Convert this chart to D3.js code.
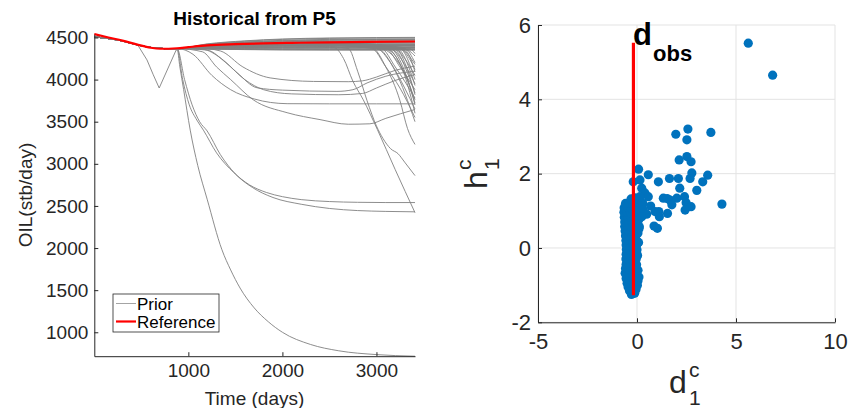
<!DOCTYPE html>
<html><head><meta charset="utf-8">
<script src="https://cdn.jsdelivr.net/npm/d3@7"></script>
<style>
body{margin:0;background:#fff}
svg{display:block}
text{font-family:"Liberation Sans",Arial,Helvetica,sans-serif}
</style>
</head><body>
<svg id="c" width="848" height="408"></svg>
<script>
// ---------------- LEFT PANEL DATA ----------------
const xTicksLeft = [1000, 2000, 3000];
const yTicksLeft = [1000, 1500, 2000, 2500, 3000, 3500, 4000, 4500];
const xDomainLeft = [0, 3410];
const yDomainLeft = [716, 4540];

// reference (red) curve
const refDays = [0, 150, 300, 450, 600, 700, 880, 1000, 1200, 1500, 1800, 2100, 2500, 2900, 3410];
const refOil  = [4540, 4500, 4462, 4418, 4378, 4366, 4372, 4385, 4405, 4420, 4430, 4436, 4442, 4447, 4452];

// shared early history of the prior runs [day, oil]
const sharedStart = [[0,4508],[150,4487],[300,4458],[450,4414],[600,4382],[750,4368],[880,4368]];

// prior runs that stay in the upper band (points after day 880)
const bandTails = [
  [[1200,4362],[1600,4356],[2000,4352],[2500,4350],[3000,4350],[3410,4350]],
  [[1200,4365],[1600,4361],[2000,4359],[2500,4358],[3000,4358],[3410,4358]],
  [[1200,4367],[1600,4366],[2000,4365],[2500,4365],[3000,4365],[3410,4365]],
  [[1200,4370],[1600,4371],[2000,4372],[2500,4372],[3000,4372],[3410,4372]],
  [[1200,4373],[1600,4376],[2000,4378],[2500,4379],[3000,4380],[3410,4380]],
  [[1200,4376],[1600,4381],[2000,4385],[2500,4387],[3000,4388],[3410,4388]],
  [[1200,4379],[1600,4386],[2000,4391],[2500,4394],[3000,4396],[3410,4396]],
  [[1200,4383],[1600,4392],[2000,4399],[2500,4403],[3000,4405],[3410,4405]],
  [[1200,4386],[1600,4398],[2000,4406],[2500,4411],[3000,4413],[3410,4414]],
  [[1200,4390],[1600,4404],[2000,4413],[2500,4419],[3000,4422],[3410,4423]],
  [[1200,4394],[1600,4410],[2000,4421],[2500,4428],[3000,4431],[3410,4432]],
  [[1200,4398],[1600,4417],[2000,4430],[2500,4438],[3000,4441],[3410,4442]],
  [[1200,4402],[1600,4424],[2000,4438],[2500,4447],[3000,4451],[3410,4452]],
  [[1200,4406],[1600,4431],[2000,4447],[2500,4457],[3000,4461],[3410,4462]],
  [[1200,4410],[1600,4438],[2000,4456],[2500,4466],[3000,4471],[3410,4472]],
  [[1200,4415],[1600,4446],[2000,4466],[2500,4477],[3000,4482],[3410,4483]],
  [[1200,4420],[1600,4455],[2000,4477],[2500,4489],[3000,4494],[3410,4495]],
  [[1200,4424],[1600,4460],[2000,4482],[2500,4494],[3000,4499],[3410,4501]],
  [[1200,4412],[1600,4442],[2000,4461],[2500,4471],[3000,4476],[3410,4477]],
  [[1200,4400],[1600,4420],[2000,4434],[2500,4442],[3000,4446],[3410,4447]],
  [[1200,4388],[1600,4401],[2000,4409],[2500,4415],[3000,4418],[3410,4418]],
  [[1200,4375],[1600,4379],[2000,4382],[2500,4383],[3000,4384],[3410,4384]],
  [[1200,4364],[1600,4358],[2000,4355],[2500,4354],[3000,4354],[3410,4354]]
];

// prior run with early dip (full history)
const dipRun = [[0,4508],[150,4486],[300,4458],[465,4405],[560,4234],[627,4057],[690,3900],[870,4350],[940,4368],[1100,4380],[1400,4392],[1800,4400],[2300,4404],[2900,4406],[3410,4407]];

// prior runs that break away after ~880 days (points after day 880)
const dropTails = [
  // steep decline to ~716
  [[910,4150],[950,3880],[1020,3400],[1100,2980],[1200,2580],[1357,1980],[1450,1740],[1550,1525],[1700,1290],[1850,1125],[2000,1000],[2300,855],[2600,780],[3000,735],[3410,716]],
  // plateau ~2540
  [[940,4000],[1010,3700],[1090,3520],[1160,3400],[1300,3130],[1480,2900],[1650,2750],[1830,2660],[2000,2610],[2200,2575],[2500,2552],[2800,2543],[3100,2540],[3410,2540]],
  // plateau ~2430
  [[960,4000],[1040,3700],[1120,3500],[1200,3390],[1340,3110],[1500,2880],[1680,2720],[1900,2600],[2200,2520],[2500,2470],[2800,2445],[3100,2435],[3410,2430]],
  // plateau ~3980 then rise
  [[1100,4375],[1340,4340],[1580,4150],[1870,4020],[2330,3978],[2700,3975],[2850,3985],[3000,4030],[3200,4110],[3410,4160]],
  // plateau ~3870 then rise
  [[1150,4360],[1350,4250],[1520,4080],[1730,3903],[2000,3875],[2580,3860],[2750,3880],[2900,3960],[3100,4040],[3410,4100]],
  // plateau ~3820 then rise
  [[1200,4350],[1400,4200],[1600,4000],[1800,3880],[2100,3830],[2600,3820],[2850,3835],[3000,3900],[3200,3990],[3410,4060]],
  // flat ~3714
  [[1050,4300],[1250,4050],[1450,3880],[1700,3770],[2050,3714],[2500,3712],[3000,3712],[3410,3712]],
  // plateau ~3470 then rise
  [[1150,4330],[1300,4150],[1450,4000],[1690,3760],[2050,3607],[2400,3525],[2700,3470],[2930,3475],[3100,3540],[3410,3645]]
];

// prior runs that break away late (points after day 880)
const lateTails = [
  [[1500,4395],[2200,4400],[2550,4380],[2650,4250],[2750,3980],[2860,3760],[3010,3407],[3200,2930],[3410,2420]],
  [[1500,4400],[2300,4405],[2700,4370],[2800,4100],[2900,3750],[3000,3450],[3070,3300],[3150,3180],[3230,3120],[3300,3020],[3410,2860]],
  [[1500,4405],[2400,4410],[2950,4380],[3100,4150],[3250,3750],[3330,3420],[3410,3230]],
  [[1500,4402],[2400,4420],[3000,4370],[3150,4200],[3300,3900],[3410,3650]],
  [[1500,4398],[2400,4415],[3050,4370],[3200,4150],[3410,3780]],
  [[1500,4410],[2400,4430],[3100,4370],[3250,4150],[3410,3880]],
  [[1500,4395],[2400,4405],[3100,4365],[3300,4050],[3410,3600]],
  [[1500,4412],[2400,4435],[3150,4370],[3300,4180],[3410,3950]],
  [[1500,4408],[2400,4425],[3200,4370],[3300,4250],[3410,4050]],
  [[1500,4400],[2400,4418],[3200,4365],[3320,4150],[3410,3820]],
  [[1500,4415],[2400,4440],[3250,4370],[3350,4250],[3410,4120]],
  [[1500,4404],[2400,4422],[3250,4365],[3410,4000]],
  [[1500,4418],[2400,4445],[3300,4370],[3410,4200]],
  [[1500,4396],[2400,4410],[3300,4365],[3410,4280]],
  [[1500,4401],[2400,4412],[2950,4370],[3100,4150],[3250,3900],[3410,3550]],
  [[1500,4407],[2400,4428],[3150,4365],[3300,4100],[3410,3720]],
  [[1500,4399],[2400,4416],[3050,4368],[3200,4250],[3330,4000],[3410,3700]],
  [[1500,4420],[2400,4450],[3350,4370],[3410,4310]],
  [[1500,4403],[2400,4419],[3000,4380],[3200,4100],[3410,3500]],
  [[1500,4409],[2400,4432],[3250,4372],[3410,4180]],
  [[1500,4411],[2400,4436],[3180,4370],[3330,4080],[3410,3840]],
  [[1500,4397],[2400,4408],[3120,4368],[3280,4120],[3410,3760]],
  [[1500,4413],[2400,4438],[3280,4372],[3380,4200],[3410,4090]],
  [[1500,4406],[2400,4424],[3220,4368],[3360,4100],[3410,3930]]
];

const legendLabels = ["Prior", "Reference"];

// ---------------- RIGHT PANEL DATA ----------------
const xTicksRight = [-5, 0, 5, 10];
const yTicksRight = [-2, 0, 2, 4, 6];
const dObs = -0.18;
const dObsRange = [-1.27, 5.52];

// canonical-component scatter: [d1c, h1c]
const clusterPts = [
  [-0.28,-1.25],[-0.12,-1.22],
  [-0.38,-1.15],[-0.2,-1.14],[-0.05,-1.12],
  [-0.45,-1.05],[-0.3,-1.03],[-0.12,-1.06],[0.02,-1.0],
  [-0.5,-0.95],[-0.33,-0.93],[-0.15,-0.95],[0.05,-0.88],
  [-0.55,-0.82],[-0.4,-0.85],[-0.22,-0.8],[-0.05,-0.83],[0.1,-0.78],
  [-0.6,-0.68],[-0.42,-0.72],[-0.25,-0.7],[-0.08,-0.68],[0.05,-0.6],
  [-0.58,-0.55],[-0.4,-0.58],[-0.22,-0.56],[-0.05,-0.55],
  [-0.55,-0.44],[-0.38,-0.46],[-0.2,-0.43],[-0.02,-0.45],
  [-0.56,-0.3],[-0.4,-0.33],[-0.22,-0.32],[-0.04,-0.3],[0.03,-0.2],
  [-0.55,-0.17],[-0.38,-0.19],[-0.2,-0.16],[-0.02,-0.15],
  [-0.54,-0.04],[-0.36,-0.06],[-0.18,-0.03],[0.0,-0.05],
  [-0.55,0.08],[-0.38,0.07],[-0.2,0.1],[-0.02,0.08],[0.08,0.15],
  [-0.56,0.2],[-0.4,0.22],[-0.22,0.19],[-0.04,0.22],
  [-0.58,0.33],[-0.42,0.35],[-0.24,0.32],[-0.06,0.34],[0.05,0.4],
  [-0.6,0.46],[-0.44,0.48],[-0.26,0.45],[-0.08,0.47],[0.1,0.52],
  [-0.62,0.58],[-0.46,0.6],[-0.28,0.57],[-0.1,0.6],[0.05,0.62],
  [-0.62,0.7],[-0.45,0.72],[-0.26,0.7],[-0.08,0.72],[0.08,0.75],
  [-0.64,0.83],[-0.48,0.85],[-0.3,0.82],[-0.12,0.84],[0.04,0.88],
  [-0.66,0.96],[-0.5,0.97],[-0.32,0.94],[-0.14,0.96],[0.02,1.0],
  [-0.65,1.08],[-0.48,1.1],[-0.3,1.07],[-0.12,1.1],[0.05,1.12],
  [-0.58,1.2],[-0.4,1.22],[-0.22,1.2],[-0.05,1.24],
  [-0.3,1.32],[-0.1,1.35],[0.1,1.3]
];
const spreadPts = [
  [1.96,3.06],[2.57,3.2],[2.52,2.91],[3.73,3.11],
  [2.13,2.37],[2.52,2.46],[2.73,2.32],
  [0.08,2.12],[0.57,1.97],[1.08,1.78],[1.64,1.87],[2.09,1.87],[2.77,2.02],[2.68,1.87],[3.57,1.96],[3.32,1.78],
  [-0.19,1.78],[0.15,1.83],[0.24,1.61],[0.4,1.48],[2.16,1.61],[3.02,1.55],
  [0.57,1.38],[1.33,1.34],[1.52,1.33],[1.67,1.29],[2.01,1.34],[2.4,1.38],[2.48,1.22],[2.73,1.11],[2.43,1.02],[1.76,1.16],
  [0.69,1.13],[0.49,0.91],[0.91,0.98],[1.1,0.98],[1.54,0.93],[1.13,0.84],[0.86,0.59],[1.03,0.53],
  [4.29,1.18],[0.24,1.16],[0.3,1.2],[0.15,1.38],[0.32,1.02],[0.24,0.84],[0.12,0.57],
  [5.62,5.51],[6.85,4.65]
];

// ---------------- DRAW ----------------
const svg = d3.select("#c");
const axisColor = "#262626";
const gray = "#808080";

// ===== Left panel =====
const xL = d3.scaleLinear().domain(xDomainLeft).range([94.3, 415]);
const yL = d3.scaleLinear().domain(yDomainLeft).range([356.2, 34.1]);
const lineL = d3.line().x(d => xL(d[0])).y(d => yL(d[1])).curve(d3.curveMonotoneX);
const lineLin = d3.line().x(d => xL(d[0])).y(d => yL(d[1]));

const gL = svg.append("g");
const runs = [];
bandTails.forEach(t => runs.push(sharedStart.concat(t)));
dropTails.forEach(t => runs.push(sharedStart.concat(t)));
lateTails.forEach(t => runs.push(sharedStart.concat(t)));

gL.selectAll("path.prior").data(runs).join("path")
  .attr("class","prior")
  .attr("d", lineL)
  .attr("fill","none")
  .attr("stroke", gray)
  .attr("stroke-width", 0.9);

gL.append("path").datum(dipRun)
  .attr("d", lineLin)
  .attr("fill","none")
  .attr("stroke", gray)
  .attr("stroke-width", 0.9);

gL.append("path")
  .datum(refDays.map((d,i)=>[d, refOil[i]]))
  .attr("d", lineL)
  .attr("fill","none")
  .attr("stroke","#ff0000")
  .attr("stroke-width", 2.2);

const axL = gL.append("g").attr("transform","translate(0,356.2)")
  .call(d3.axisBottom(xL).tickValues(xTicksLeft).tickSizeInner(-4).tickSizeOuter(0).tickPadding(7).tickFormat(d=>String(d)));
const ayL = gL.append("g").attr("transform","translate(94.3,0)")
  .call(d3.axisLeft(yL).tickValues(yTicksLeft).tickSizeInner(-4).tickSizeOuter(0).tickPadding(6).tickFormat(d=>String(d)));
[axL, ayL].forEach(a => {
  a.attr("font-family", null).attr("font-size", null);
  a.selectAll("text").attr("fill", axisColor).style("font-size","19px");
  a.selectAll("line,path").attr("stroke", axisColor);
});

gL.append("text").attr("x",254.5).attr("y",25).attr("text-anchor","middle")
  .style("font-size","19px").style("font-weight","bold").attr("fill","#000").text("Historical from P5");
gL.append("text").attr("x",254.5).attr("y",405).attr("text-anchor","middle")
  .style("font-size","19px").attr("fill",axisColor).text("Time (days)");
gL.append("text").attr("transform","translate(32,195) rotate(-90)").attr("text-anchor","middle")
  .style("font-size","19px").attr("fill",axisColor).text("OIL(stb/day)");

// legend
const lg = gL.append("g");
lg.append("rect").attr("x",113).attr("y",294).attr("width",106).attr("height",38)
  .attr("fill","#fff").attr("stroke",axisColor).attr("stroke-width",0.8);
lg.append("line").attr("x1",116).attr("x2",136).attr("y1",303.5).attr("y2",303.5).attr("stroke","#9a9a9a").attr("stroke-width",0.9);
lg.append("line").attr("x1",116).attr("x2",136).attr("y1",321.5).attr("y2",321.5).attr("stroke","#ff0000").attr("stroke-width",2.2);
lg.append("text").attr("x",137).attr("y",309.5).style("font-size","17px").attr("fill","#000").text(legendLabels[0]);
lg.append("text").attr("x",137).attr("y",327.5).style("font-size","17px").attr("fill","#000").text(legendLabels[1]);

// ===== Right panel =====
const xR = d3.scaleLinear().domain([-5,10]).range([538, 835]);
const yR = d3.scaleLinear().domain([-2,6]).range([322.3, 25]);
const gR = svg.append("g");

gR.selectAll("line.gx").data(xTicksRight).join("line").attr("class","gx")
  .attr("x1",d=>xR(d)).attr("x2",d=>xR(d)).attr("y1",yR(-2)).attr("y2",yR(6))
  .attr("stroke","#e3e3e3").attr("stroke-width",1);
gR.selectAll("line.gy").data(yTicksRight).join("line").attr("class","gy")
  .attr("y1",d=>yR(d)).attr("y2",d=>yR(d)).attr("x1",xR(-5)).attr("x2",xR(10))
  .attr("stroke","#e3e3e3").attr("stroke-width",1);

const axR = gR.append("g").attr("transform",`translate(0,${yR(-2)})`)
  .call(d3.axisBottom(xR).tickValues(xTicksRight).tickSizeInner(-4).tickSizeOuter(0).tickPadding(11).tickFormat(d=>String(d)));
const ayR = gR.append("g").attr("transform",`translate(${xR(-5)},0)`)
  .call(d3.axisLeft(yR).tickValues(yTicksRight).tickSizeInner(-4).tickSizeOuter(0).tickPadding(7).tickFormat(d=>String(d)));
[axR, ayR].forEach(a => {
  a.attr("font-family", null).attr("font-size", null);
  a.selectAll("text").attr("fill", axisColor).style("font-size","22px");
  a.selectAll("line,path").attr("stroke", axisColor);
});

gR.selectAll("circle").data(clusterPts.concat(spreadPts)).join("circle")
  .attr("cx",d=>xR(d[0])).attr("cy",d=>yR(d[1])).attr("r",4.6).attr("fill","#0072BD");

gR.append("line").attr("x1",xR(dObs)).attr("x2",xR(dObs))
  .attr("y1",yR(dObsRange[0])).attr("y2",yR(dObsRange[1]))
  .attr("stroke","#ff0000").attr("stroke-width",3.2);

gR.append("text").attr("x",633).attr("y",45).style("font-size","31px").style("font-weight","bold").attr("fill","#000").text("d");
gR.append("text").attr("x",653).attr("y",61).style("font-size","22px").style("font-weight","bold").attr("fill","#000").text("obs");

// x label d_1^c
gR.append("text").attr("x",669).attr("y",393).style("font-size","32px").attr("fill",axisColor).text("d");
gR.append("text").attr("x",689).attr("y",377).style("font-size","21px").attr("fill",axisColor).text("c");
gR.append("text").attr("x",689).attr("y",405).style("font-size","21px").attr("fill",axisColor).text("1");

// y label h_1^c
const hl = gR.append("g").attr("transform","translate(487,189) rotate(-90)");
hl.append("text").attr("x",0).attr("y",0).style("font-size","32px").attr("fill",axisColor).text("h");
hl.append("text").attr("x",19).attr("y",-16).style("font-size","21px").attr("fill",axisColor).text("c");
hl.append("text").attr("x",19).attr("y",12).style("font-size","21px").attr("fill",axisColor).text("1");
</script>
</body></html>
